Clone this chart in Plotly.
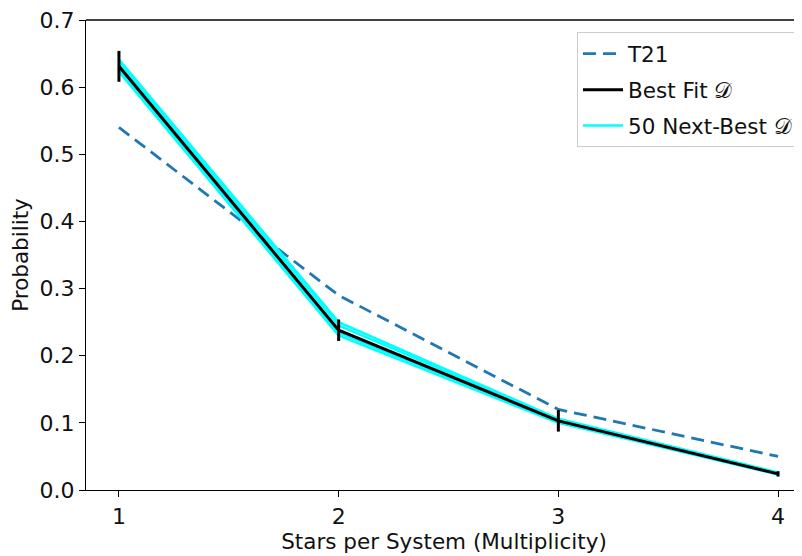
import plotly.graph_objects as go

multiplicity = [1, 2, 3, 4]
t21 = [0.54, 0.29, 0.12, 0.05]
best_fit = [0.631, 0.238, 0.103, 0.024]
best_fit_err = [0.023, 0.016, 0.016, 0.004]
# a handful of the next-best curves (envelope + interior)
next_best = [
    [0.641, 0.250, 0.106, 0.026],
    [0.637, 0.245, 0.105, 0.025],
    [0.627, 0.234, 0.102, 0.024],
    [0.623, 0.230, 0.100, 0.023],
]

fig = go.Figure()

fig.add_trace(go.Scatter(
    x=multiplicity, y=t21, mode="lines", name="T21",
    line=dict(color="#1f77b4", width=2.8, dash="13px,7px"),
    legendrank=1, legendgroup="a",
))

for i, vals in enumerate(next_best):
    fig.add_trace(go.Scatter(
        x=multiplicity, y=vals, mode="lines",
        name="50 Next-Best 𝒟",
        line=dict(color="cyan", width=2.5),
        showlegend=(i == 0), legendrank=3, legendgroup="c",
    ))

fig.add_trace(go.Scatter(
    x=multiplicity, y=best_fit, mode="lines", name="Best Fit 𝒟",
    line=dict(color="black", width=3),
    error_y=dict(type="data", array=best_fit_err, color="black",
                 thickness=3, width=0),
    legendrank=2, legendgroup="b",
))

axis_common = dict(
    showgrid=False, zeroline=False, showline=True, linecolor="black",
    linewidth=1.3, ticks="outside", ticklen=6, tickcolor="black",
    tickwidth=1.3, tickfont=dict(size=22, color="#111111"),
    ticklabeloverflow="allow",
)

# page body has an 8px default margin; compensate in figure size/margins
fig.update_layout(
    width=794, height=548,
    margin=dict(l=78, r=0, t=12, b=66, autoexpand=False),
    paper_bgcolor="white", plot_bgcolor="white",
    font=dict(family="DejaVu Sans", size=22, color="#111111"),
    xaxis=dict(range=[0.85, 4.109], tickvals=multiplicity,
               ticktext=[str(v) for v in multiplicity],
               title=dict(text="Stars per System (Multiplicity)",
                          font=dict(size=21.5), standoff=5),
               automargin=False, mirror=False, **axis_common),
    yaxis=dict(range=[0, 0.7], tickvals=[0, 0.1, 0.2, 0.3, 0.4, 0.5, 0.6, 0.7],
               tickformat=".1f",
               title=dict(text="Probability", font=dict(size=21.5), standoff=8),
               automargin=False, **axis_common),
    legend=dict(x=0.9944, y=0.974, xanchor="right", yanchor="top",
                bgcolor="white", bordercolor="#cccccc", borderwidth=1,
                font=dict(size=21.5), traceorder="grouped", tracegroupgap=5,
                itemwidth=40),
    showlegend=True,
)

# top spine
fig.add_shape(type="line", xref="paper", yref="paper", x0=0, x1=1, y0=1, y1=1,
              line=dict(color="black", width=1.3))

fig.write_html("out.html")
